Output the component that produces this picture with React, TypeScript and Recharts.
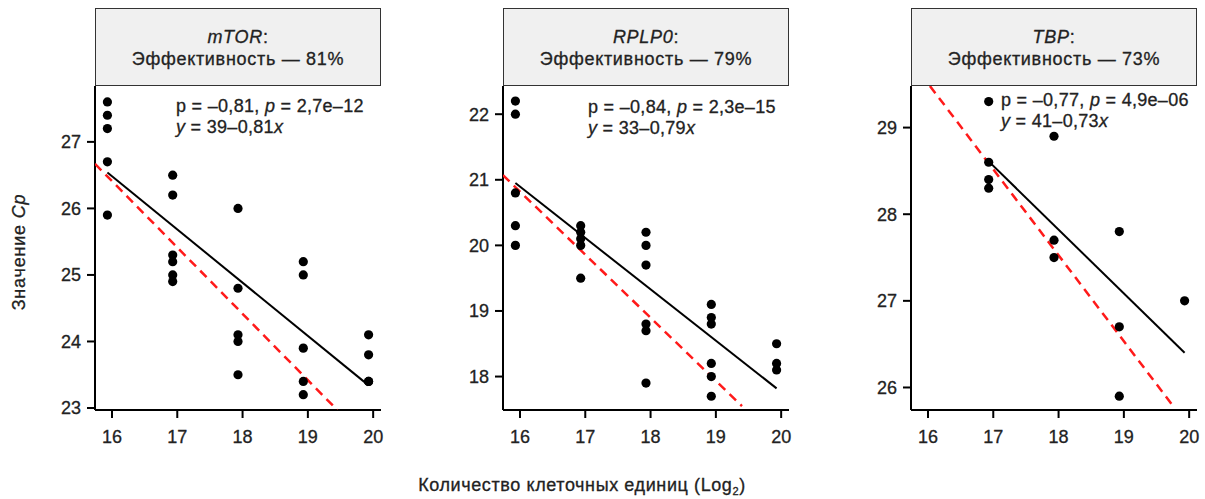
import { ScatterChart, Scatter, XAxis, YAxis } from "recharts"

// log2 of cell count per dilution step
const xGroups = [15.93, 16.93, 17.93, 18.93, 19.93]
const xTicks = [16, 17, 18, 19, 20]

const mtorCp = [
    [27.6, 27.4, 27.2, 26.7, 25.9],
    [26.5, 26.2, 25.3, 25.2, 25.0, 24.9],
    [26.0, 24.8, 24.1, 24.0, 23.5],
    [25.2, 25.0, 23.9, 23.4, 23.2],
    [24.1, 23.8, 23.4, 23.4],
]
const mtorFitX = [15.93, 19.93]
const mtorFitY = [26.54, 23.34]
const mtorIdealX = [15.74, 19.45]
const mtorIdealY = [26.67, 22.97]
const mtorTicks = [23, 24, 25, 26, 27]

const rplp0Cp = [
    [22.2, 22.0, 20.8, 20.3, 20.0],
    [20.3, 20.2, 20.1, 20.0, 19.5],
    [20.2, 20.0, 19.7, 18.8, 18.7, 17.9],
    [19.1, 18.9, 18.8, 18.2, 18.0, 17.7],
    [18.5, 18.2, 18.1],
]
const rplp0FitX = [15.93, 19.93]
const rplp0FitY = [20.95, 17.82]
const rplp0IdealX = [15.74, 19.4]
const rplp0IdealY = [21.07, 17.55]
const rplp0Ticks = [18, 19, 20, 21, 22]

const tbpCp = [
    [],
    [29.3, 28.6, 28.4, 28.3],
    [28.9, 27.7, 27.5],
    [27.8, 26.7, 25.9],
    [27.0],
]
const tbpFitX = [16.93, 19.93]
const tbpFitY = [28.61, 26.4]
const tbpIdealX = [16.03, 19.77]
const tbpIdealY = [29.48, 25.77]
const tbpTicks = [26, 27, 28, 29]

const toPoints = (xs: number[], ys: number[]) => xs.map((x, i) => ({ x, y: ys[i] }))

const FONT = "'Liberation Sans', Arial, Helvetica, sans-serif"
const INK = "#222"
const heavy = { WebkitTextStroke: "0.3px #222" } as any

function Panel({ left, gene, eff, rho, pval, eq, groups, fitX, fitY, idealX, idealY, yDomain, yTicks, statsLeft, statsTop }: any) {
    const points = groups.flatMap((ys: number[], i: number) => ys.map((y) => ({ x: xGroups[i], y })))
    const axisProps = { stroke: "#000", strokeWidth: 2 }
    const tickStyle = { fill: INK, fontSize: 18, stroke: INK, strokeWidth: 0.3 }
    return (
        <>
            <div style={{ position: "absolute", left, top: 0 }}>
                <ScatterChart width={400} height={499} margin={{ top: 86, right: 19, bottom: 59, left: 50 }}>
                    <XAxis
                        type="number"
                        dataKey="x"
                        domain={[15.74, 20.12]}
                        ticks={xTicks}
                        allowDataOverflow
                        height={30}
                        tickSize={8}
                        tickMargin={12}
                        axisLine={axisProps}
                        tickLine={axisProps}
                        tick={tickStyle}
                    />
                    <YAxis
                        type="number"
                        dataKey="y"
                        domain={yDomain}
                        ticks={yTicks}
                        allowDataOverflow
                        width={45}
                        tickSize={8}
                        tickMargin={6}
                        axisLine={axisProps}
                        tickLine={axisProps}
                        tick={tickStyle}
                    />
                    <Scatter
                        data={toPoints(idealX, idealY)}
                        line={{ stroke: "#ff1a1a", strokeWidth: 2.5, strokeDasharray: "9 6" }}
                        shape={() => <g />}
                        isAnimationActive={false}
                    />
                    <Scatter
                        data={toPoints(fitX, fitY)}
                        line={{ stroke: "#000", strokeWidth: 2 }}
                        shape={() => <g />}
                        isAnimationActive={false}
                    />
                    <Scatter
                        data={points}
                        shape={(p: any) => <circle cx={p.cx} cy={p.cy} r={4.6} fill="#000" />}
                        isAnimationActive={false}
                    />
                </ScatterChart>
            </div>
            <div
                style={{
                    position: "absolute",
                    left: left + 95,
                    top: 8,
                    width: 286,
                    height: 78,
                    boxSizing: "border-box",
                    border: "1.5px solid #333",
                    background: "#f0f0f0",
                    textAlign: "center",
                    fontSize: 18,
                    letterSpacing: 0.7,
                    lineHeight: "22px",
                    paddingTop: 17,
                    color: INK,
                    ...heavy,
                }}
            >
                <div><i>{gene}</i>:</div>
                <div>Эффективность — {eff}%</div>
            </div>
            <div
                style={{
                    position: "absolute",
                    left: left + statsLeft,
                    top: statsTop,
                    fontSize: 18,
                    letterSpacing: 0.3,
                    lineHeight: "21px",
                    color: INK,
                    whiteSpace: "nowrap",
                    ...heavy,
                }}
            >
                <div>р = {rho}, <i>p</i> = {pval}</div>
                <div><i>y</i> = {eq}<i>x</i></div>
            </div>
        </>
    )
}

export default function App() {
    return (
        <div style={{ position: "absolute", left: 0, top: 0, width: 1205, height: 499, background: "#fff", fontFamily: FONT, overflow: "hidden" }}>
            <Panel
                left={0}
                gene="mTOR"
                eff={81}
                rho="–0,81"
                pval="2,7e–12"
                eq="39–0,81"
                groups={mtorCp}
                fitX={mtorFitX}
                fitY={mtorFitY}
                idealX={mtorIdealX}
                idealY={mtorIdealY}
                yDomain={[22.97, 27.84]}
                yTicks={mtorTicks}
                statsLeft={176}
                statsTop={96}
            />
            <Panel
                left={408}
                gene="RPLP0"
                eff={79}
                rho="–0,84"
                pval="2,3e–15"
                eq="33–0,79"
                groups={rplp0Cp}
                fitX={rplp0FitX}
                fitY={rplp0FitY}
                idealX={rplp0IdealX}
                idealY={rplp0IdealY}
                yDomain={[17.49, 22.43]}
                yTicks={rplp0Ticks}
                statsLeft={180}
                statsTop={97}
            />
            <Panel
                left={816}
                gene="TBP"
                eff={73}
                rho="–0,77"
                pval="4,9e–06"
                eq="41–0,73"
                groups={tbpCp}
                fitX={tbpFitX}
                fitY={tbpFitY}
                idealX={tbpIdealX}
                idealY={tbpIdealY}
                yDomain={[25.74, 29.48]}
                yTicks={tbpTicks}
                statsLeft={185}
                statsTop={90}
            />
            <div
                style={{
                    position: "absolute",
                    left: 18.5,
                    top: 252,
                    transform: "translate(-50%, -50%) rotate(-90deg)",
                    fontSize: 18,
                    letterSpacing: 0.8,
                    color: INK,
                    whiteSpace: "nowrap",
                    ...heavy,
                }}
            >
                Значение <i>Cp</i>
            </div>
            <div
                style={{
                    position: "absolute",
                    left: 582,
                    top: 486,
                    transform: "translate(-50%, -50%)",
                    fontSize: 18,
                    letterSpacing: 0.6,
                    color: INK,
                    whiteSpace: "nowrap",
                    lineHeight: "22px",
                    ...heavy,
                }}
            >
                Количество клеточных единиц (Log<span style={{ fontSize: 11, position: "relative", top: 4 }}>2</span>)
            </div>
        </div>
    )
}
